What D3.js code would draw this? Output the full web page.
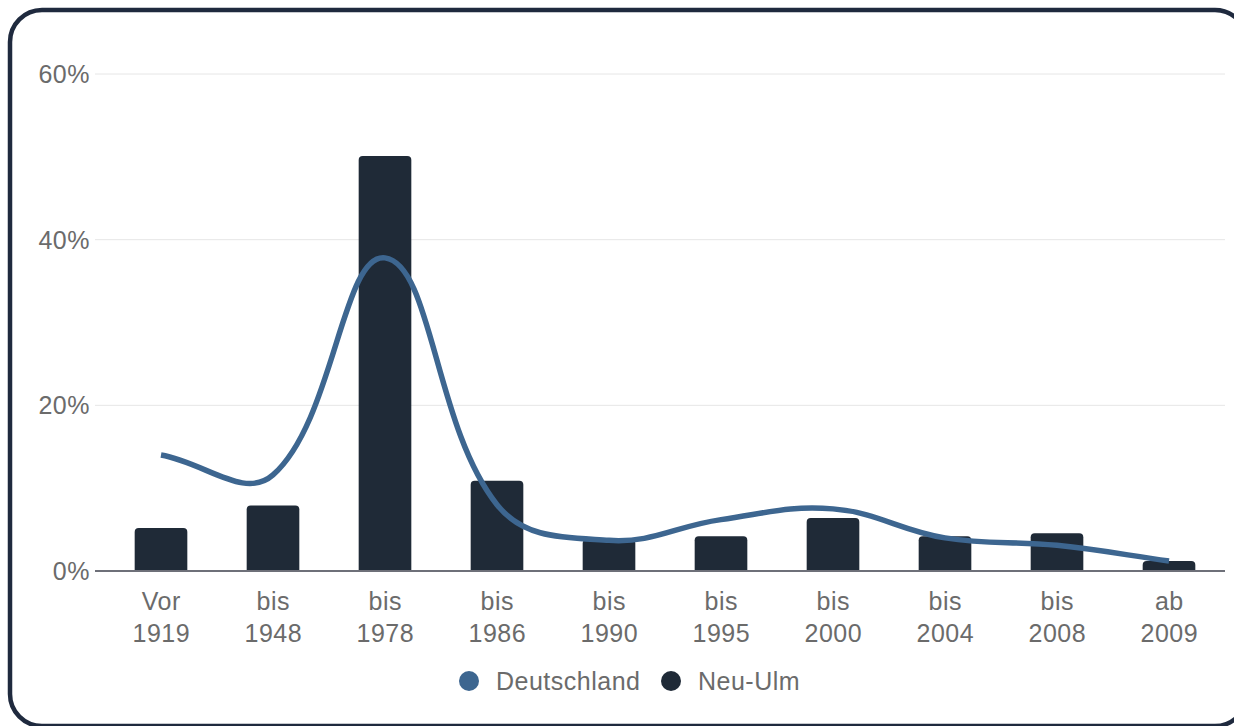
<!DOCTYPE html>
<html>
<head>
<meta charset="utf-8">
<script src="https://cdn.jsdelivr.net/npm/d3@7"></script>
<style>
  html, body { margin: 0; padding: 0; background: #ffffff; }
  svg { display: block; font-family: "Liberation Sans", Arial, sans-serif; }
  .lbl { font-size: 25px; letter-spacing: 0.5px; }
</style>
</head>
<body>
<svg id="chart" width="1234" height="726"></svg>
<script>
// Baujahr der Wohngebäude: Anteil in Prozent
const categories = [
  ["Vor", "1919"], ["bis", "1948"], ["bis", "1978"], ["bis", "1986"], ["bis", "1990"],
  ["bis", "1995"], ["bis", "2000"], ["bis", "2004"], ["bis", "2008"], ["ab", "2009"]
];
const neuUlm      = [5.2, 7.9, 50.1, 10.9, 3.8, 4.2, 6.4, 4.2, 4.55, 1.2];
const deutschland = [14.0, 11.6, 37.8, 8.0, 3.7, 6.2, 7.5, 4.0, 3.1, 1.2];
const yTicks = [0, 20, 40, 60];
const seriesNames = ["Deutschland", "Neu-Ulm"];

const colorBar = "#1f2a37";
const colorLine = "#3d6690";
const textColor = "#6b6b6b";

const svg = d3.select("#chart");

// Rahmen
svg.append("rect")
  .attr("x", 10).attr("y", 10)
  .attr("width", 1237).attr("height", 716)
  .attr("rx", 32).attr("ry", 32)
  .attr("fill", "#ffffff")
  .attr("stroke", "#1f2a3e")
  .attr("stroke-width", 4.5);

const plot = { left: 105, right: 1225, top: 74, bottom: 571 };

const x = d3.scaleBand()
  .domain(d3.range(categories.length))
  .range([plot.left, plot.right])
  .paddingInner(0.53)
  .paddingOuter(0.265);

const y = d3.scaleLinear()
  .domain([0, 60])
  .range([plot.bottom, plot.top]);

// Gitterlinien
svg.append("g")
  .selectAll("line")
  .data(yTicks.filter(t => t > 0))
  .join("line")
  .attr("x1", 95).attr("x2", plot.right)
  .attr("y1", d => y(d)).attr("y2", d => y(d))
  .attr("stroke", "#e6e6e6")
  .attr("stroke-width", 1);

// Y-Achse
const yAxis = d3.axisLeft(y)
  .tickValues(yTicks)
  .tickFormat(d => d + "%")
  .tickSize(0)
  .tickPadding(5);
const gy = svg.append("g").attr("transform", `translate(95,0)`).call(yAxis);
gy.select(".domain").remove();
gy.selectAll("text")
  .attr("class", "lbl")
  .attr("fill", textColor)
  .attr("dy", "0.34em")
  .style("font-family", "Liberation Sans, Arial, sans-serif");

// Balken mit abgerundeten oberen Ecken
function topRoundedRect(x0, y0, w, h, r) {
  r = Math.min(r, h, w / 2);
  return `M${x0},${y0 + h}V${y0 + r}Q${x0},${y0} ${x0 + r},${y0}` +
         `H${x0 + w - r}Q${x0 + w},${y0} ${x0 + w},${y0 + r}V${y0 + h}Z`;
}
svg.append("g")
  .selectAll("path")
  .data(neuUlm)
  .join("path")
  .attr("d", (d, i) => topRoundedRect(x(i), y(d), x.bandwidth(), y(0) - y(d), 4))
  .attr("fill", colorBar);

// X-Achse
svg.append("line")
  .attr("x1", 95).attr("x2", plot.right)
  .attr("y1", y(0)).attr("y2", y(0))
  .attr("stroke", "#6e7079")
  .attr("stroke-width", 2);

const xLabels = svg.append("g")
  .selectAll("text")
  .data(categories)
  .join("text")
  .attr("class", "lbl")
  .attr("text-anchor", "middle")
  .attr("fill", textColor)
  .attr("transform", (d, i) => `translate(${x(i) + x.bandwidth() / 2 + 0.3},0)`);
xLabels.append("tspan").attr("x", 0).attr("y", 610).text(d => d[0]);
xLabels.append("tspan").attr("x", 0).attr("y", 642).text(d => d[1]);

// Spline mit Spannung 0.4 (Kontrollpunkte nach Abstand gewichtet)
function TensionSpline(context, tension) {
  this._context = context;
  this._t = tension;
}
TensionSpline.prototype = {
  areaStart() { this._line = 0; },
  areaEnd() { this._line = NaN; },
  lineStart() { this._pts = []; },
  point(px, py) { this._pts.push([+px, +py]); },
  lineEnd() {
    const p = this._pts, n = p.length, ctx = this._context, t = this._t;
    if (!n) return;
    const prevCp = [], nextCp = [];
    for (let i = 0; i < n; i++) {
      const prev = p[Math.max(i - 1, 0)], cur = p[i], next = p[Math.min(i + 1, n - 1)];
      const d01 = Math.hypot(cur[0] - prev[0], cur[1] - prev[1]);
      const d12 = Math.hypot(next[0] - cur[0], next[1] - cur[1]);
      let s01 = d01 / (d01 + d12), s12 = d12 / (d01 + d12);
      if (isNaN(s01)) s01 = 0;
      if (isNaN(s12)) s12 = 0;
      const fa = t * s01, fb = t * s12;
      prevCp.push([cur[0] - fa * (next[0] - prev[0]), cur[1] - fa * (next[1] - prev[1])]);
      nextCp.push([cur[0] + fb * (next[0] - prev[0]), cur[1] + fb * (next[1] - prev[1])]);
    }
    ctx.moveTo(p[0][0], p[0][1]);
    for (let i = 1; i < n; i++) {
      ctx.bezierCurveTo(nextCp[i - 1][0], nextCp[i - 1][1], prevCp[i][0], prevCp[i][1], p[i][0], p[i][1]);
    }
  }
};
const tensionCurve = ctx => new TensionSpline(ctx, 0.4);

// Linie Deutschland
const line = d3.line()
  .x((d, i) => x(i) + x.bandwidth() / 2)
  .y(d => y(d))
  .curve(tensionCurve);
svg.append("path")
  .datum(deutschland)
  .attr("d", line)
  .attr("fill", "none")
  .attr("stroke", colorLine)
  .attr("stroke-width", 5.5)
  .attr("stroke-linecap", "butt");

// Legende
const legend = svg.append("g").attr("transform", "translate(0,681)");
const legendItems = [
  { name: seriesNames[0], color: colorLine, cx: 469 },
  { name: seriesNames[1], color: colorBar, cx: 671 }
];
legend.selectAll("circle")
  .data(legendItems)
  .join("circle")
  .attr("cx", d => d.cx).attr("cy", 0)
  .attr("r", 10)
  .attr("fill", d => d.color);
legend.selectAll("text")
  .data(legendItems)
  .join("text")
  .attr("class", "lbl")
  .attr("x", d => d.cx + 27)
  .attr("y", 8.5)
  .attr("fill", textColor)
  .text(d => d.name);
</script>
</body>
</html>
